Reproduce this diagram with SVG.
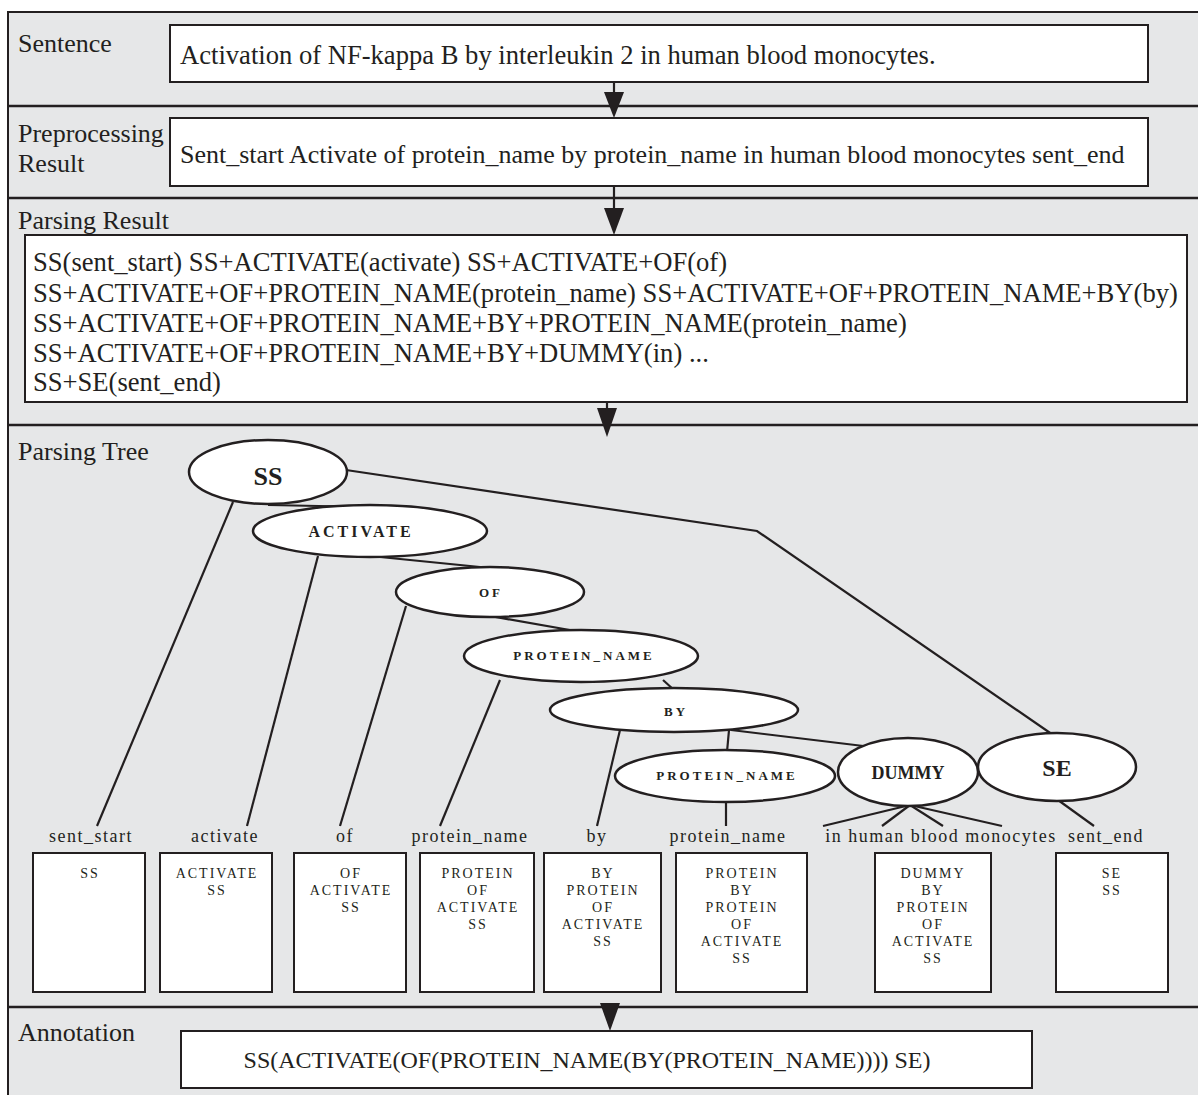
<svg xmlns="http://www.w3.org/2000/svg" width="1198" height="1095" viewBox="0 0 1198 1095">
<defs>
<style>
.lbl{font-family:"Liberation Serif","Times New Roman",serif;font-size:26px;fill:#231f20}
.txt{font-family:"Liberation Serif","Times New Roman",serif;font-size:26.6px;fill:#231f20}
.box{fill:#fff;stroke:#231f20;stroke-width:2}
.div{stroke:#231f20;stroke-width:2.5}
.ell{fill:#fff;stroke:#231f20;stroke-width:2.5}
.edge{stroke:#231f20;stroke-width:2.2;fill:none}
.nt{font-family:"Liberation Serif","Times New Roman",serif;font-weight:bold;fill:#231f20;text-anchor:middle}
.word{font-family:"Liberation Serif","Times New Roman",serif;font-size:18px;letter-spacing:1.5px;fill:#231f20;text-anchor:middle}
.stk{font-family:"Liberation Serif","Times New Roman",serif;font-size:14px;letter-spacing:2px;fill:#231f20;text-anchor:middle}
.arrow{fill:#231f20}
</style>
</defs>
<rect x="8" y="12" width="1200" height="1095" fill="#e6e7e8" stroke="#231f20" stroke-width="2"/>
<g id="dividers">
<line class="div" x1="8" y1="106" x2="1198" y2="106"/>
<line class="div" x1="8" y1="198" x2="1198" y2="198"/>
<line class="div" x1="8" y1="425" x2="1198" y2="425"/>
<line class="div" x1="8" y1="1007" x2="1198" y2="1007"/>
</g>
<g id="sentence">
<text class="lbl" x="18" y="52">Sentence</text>
<rect class="box" x="170" y="25" width="978" height="57"/>
<text class="txt" x="180" y="64">Activation of NF-kappa B by interleukin 2 in human blood monocytes.</text>
</g>
<g id="preprocessing">
<text class="lbl" x="18" y="142">Preprocessing</text>
<text class="lbl" x="18" y="172">Result</text>
<rect class="box" x="170" y="118" width="978" height="68"/>
<text class="txt" x="180" y="163" style="font-size:26px">Sent_start Activate of protein_name by protein_name in human blood monocytes sent_end</text>
</g>
<g id="parsing-result">
<text class="lbl" x="18" y="229">Parsing Result</text>
<rect class="box" x="25" y="235" width="1162" height="167"/>
<text class="txt" x="33" y="271">SS(sent_start) SS+ACTIVATE(activate) SS+ACTIVATE+OF(of)</text>
<text class="txt" x="33" y="302">SS+ACTIVATE+OF+PROTEIN_NAME(protein_name) SS+ACTIVATE+OF+PROTEIN_NAME+BY(by)</text>
<text class="txt" x="33" y="332">SS+ACTIVATE+OF+PROTEIN_NAME+BY+PROTEIN_NAME(protein_name)</text>
<text class="txt" x="33" y="362">SS+ACTIVATE+OF+PROTEIN_NAME+BY+DUMMY(in) ...</text>
<text class="txt" x="33" y="391">SS+SE(sent_end)</text>
</g>
<g id="arrows">
<line class="edge" x1="614" y1="82" x2="614" y2="92"/>
<polygon class="arrow" points="604,92 624,92 614,118"/>
<line class="edge" x1="614" y1="186" x2="614" y2="208"/>
<polygon class="arrow" points="604,208 624,208 614,235"/>
<line class="edge" x1="607" y1="402" x2="607" y2="409"/>
<polygon class="arrow" points="597,408 617,408 607,437"/>
<polygon class="arrow" points="600,1003 620,1003 610,1031"/>
</g>
<text class="lbl" x="18" y="460">Parsing Tree</text>
<g id="connectors">
<line class="edge" x1="233" y1="502" x2="97" y2="826"/>
<polyline class="edge" points="346,470 757,531 1056,737"/>
<line class="edge" x1="268" y1="505" x2="370" y2="507"/>
<line class="edge" x1="318" y1="556" x2="247" y2="826"/>
<line class="edge" x1="370" y1="556" x2="490" y2="568"/>
<line class="edge" x1="406" y1="606" x2="340" y2="826"/>
<line class="edge" x1="490" y1="616" x2="581" y2="632"/>
<line class="edge" x1="500" y1="680" x2="440" y2="826"/>
<line class="edge" x1="663" y1="680" x2="674" y2="690"/>
<line class="edge" x1="620" y1="730" x2="597" y2="826"/>
<line class="edge" x1="729" y1="730" x2="727" y2="752"/>
<line class="edge" x1="731" y1="730" x2="880" y2="748"/>
<line class="edge" x1="726" y1="800" x2="726" y2="826"/>
<line class="edge" x1="910" y1="805" x2="823" y2="826"/>
<line class="edge" x1="910" y1="805" x2="882" y2="826"/>
<line class="edge" x1="910" y1="805" x2="943" y2="826"/>
<line class="edge" x1="910" y1="805" x2="1002" y2="826"/>
<line class="edge" x1="1058" y1="800" x2="1094" y2="826"/>
</g>
<g id="node-SS"><ellipse class="ell" cx="268" cy="472" rx="79" ry="32"/><text class="nt" x="268" y="485" font-size="26">SS</text></g>
<g id="node-ACTIVATE"><ellipse class="ell" cx="370" cy="531" rx="117" ry="26"/><text class="nt" x="361" y="537" font-size="16" letter-spacing="3">ACTIVATE</text></g>
<g id="node-OF"><ellipse class="ell" cx="490" cy="592" rx="94" ry="25"/><text class="nt" x="491" y="597" font-size="13" letter-spacing="3">OF</text></g>
<g id="node-PROTEIN_NAME-1"><ellipse class="ell" cx="581" cy="656" rx="117" ry="26"/><text class="nt" x="584" y="660" font-size="13" letter-spacing="3">PROTEIN_NAME</text></g>
<g id="node-BY"><ellipse class="ell" cx="674" cy="710" rx="124" ry="22"/><text class="nt" x="676" y="716" font-size="13" letter-spacing="3">BY</text></g>
<g id="node-PROTEIN_NAME-2"><ellipse class="ell" cx="725" cy="776" rx="110" ry="26"/><text class="nt" x="727" y="780" font-size="13" letter-spacing="3">PROTEIN_NAME</text></g>
<g id="node-DUMMY"><ellipse class="ell" cx="908" cy="772" rx="70" ry="34"/><text class="nt" x="908" y="779" font-size="18">DUMMY</text></g>
<g id="node-SE"><ellipse class="ell" cx="1057" cy="767" rx="79" ry="34"/><text class="nt" x="1057" y="776" font-size="24">SE</text></g>
<g id="words">
<text class="word" x="91" y="842">sent_start</text>
<text class="word" x="225" y="842">activate</text>
<text class="word" x="345" y="842">of</text>
<text class="word" x="470" y="842">protein_name</text>
<text class="word" x="597" y="842">by</text>
<text class="word" x="728" y="842">protein_name</text>
<text class="word" x="941" y="842">in human blood monocytes</text>
<text class="word" x="1106" y="842">sent_end</text>
</g>
<g id="stack-1"><rect class="box" x="33" y="853" width="112" height="139"/><text class="stk" x="90" y="878">SS</text></g>
<g id="stack-2"><rect class="box" x="160" y="853" width="112" height="139"/><text class="stk" x="217" y="878">ACTIVATE</text><text class="stk" x="217" y="895">SS</text></g>
<g id="stack-3"><rect class="box" x="294" y="853" width="112" height="139"/><text class="stk" x="351" y="878">OF</text><text class="stk" x="351" y="895">ACTIVATE</text><text class="stk" x="351" y="912">SS</text></g>
<g id="stack-4"><rect class="box" x="420" y="853" width="114" height="139"/><text class="stk" x="478" y="878">PROTEIN</text><text class="stk" x="478" y="895">OF</text><text class="stk" x="478" y="912">ACTIVATE</text><text class="stk" x="478" y="929">SS</text></g>
<g id="stack-5"><rect class="box" x="544" y="853" width="117" height="139"/><text class="stk" x="603" y="878">BY</text><text class="stk" x="603" y="895">PROTEIN</text><text class="stk" x="603" y="912">OF</text><text class="stk" x="603" y="929">ACTIVATE</text><text class="stk" x="603" y="946">SS</text></g>
<g id="stack-6"><rect class="box" x="676" y="853" width="131" height="139"/><text class="stk" x="742" y="878">PROTEIN</text><text class="stk" x="742" y="895">BY</text><text class="stk" x="742" y="912">PROTEIN</text><text class="stk" x="742" y="929">OF</text><text class="stk" x="742" y="946">ACTIVATE</text><text class="stk" x="742" y="963">SS</text></g>
<g id="stack-7"><rect class="box" x="875" y="853" width="116" height="139"/><text class="stk" x="933" y="878">DUMMY</text><text class="stk" x="933" y="895">BY</text><text class="stk" x="933" y="912">PROTEIN</text><text class="stk" x="933" y="929">OF</text><text class="stk" x="933" y="946">ACTIVATE</text><text class="stk" x="933" y="963">SS</text></g>
<g id="stack-8"><rect class="box" x="1056" y="853" width="112" height="139"/><text class="stk" x="1112" y="878">SE</text><text class="stk" x="1112" y="895">SS</text></g>
<g id="annotation">
<text class="lbl" x="18" y="1041">Annotation</text>
<rect class="box" x="181" y="1031" width="851" height="57"/>
<text class="txt" x="587" y="1068" text-anchor="middle" style="font-size:24px">SS(ACTIVATE(OF(PROTEIN_NAME(BY(PROTEIN_NAME)))) SE)</text>
</g>
</svg>
